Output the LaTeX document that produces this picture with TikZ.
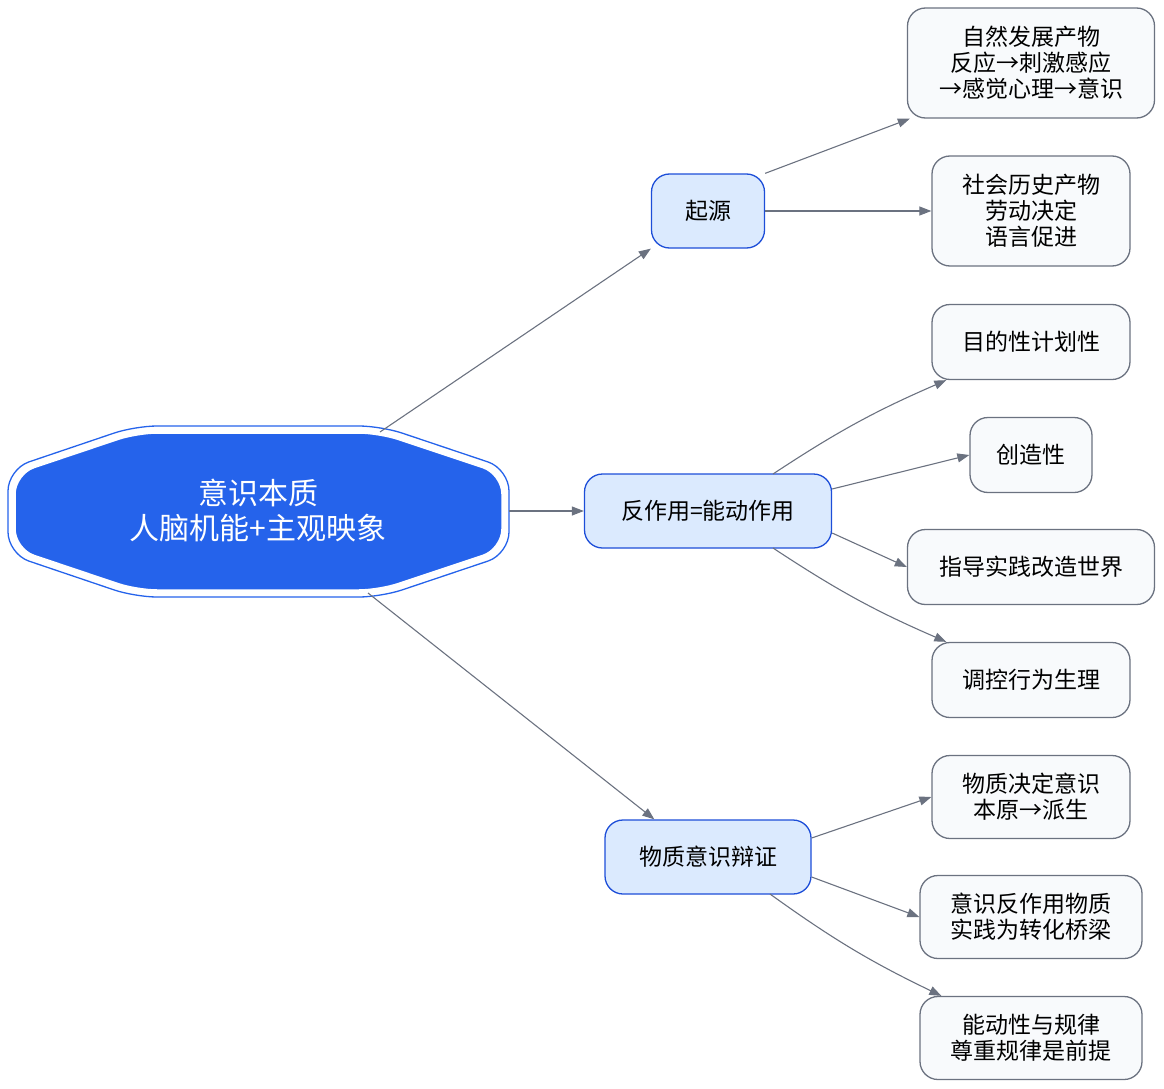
\documentclass[tikz,border=0pt]{standalone}
\usepackage{fontspec}
\newfontfamily\cjk{Noto Sans CJK SC}
\usetikzlibrary{arrows.meta}
\definecolor{rootblue}{HTML}{2563EB}
\definecolor{midfill}{HTML}{DBEAFE}
\definecolor{midline}{HTML}{1D4ED8}
\definecolor{leaffill}{HTML}{F8FAFC}
\definecolor{edgegray}{HTML}{6B7280}
\tikzset{
  mid/.style={draw=midline, fill=midfill, line width=1.3pt, rounded corners=18pt,
    align=center, font=\cjk\fontsize{23}{26}\selectfont, minimum height=74},
  leaf/.style={draw=edgegray, fill=leaffill, line width=1.3pt, rounded corners=18pt,
    align=center, font=\cjk\fontsize{23}{26}\selectfont},
  link/.style={draw=edgegray, line width=1.1pt, -{Triangle[length=12pt,width=9pt]}}
}
\begin{document}
\begin{tikzpicture}[x=1pt,y=-1pt]
  \useasboundingbox (0,0) rectangle (1164,1089);
  % root octagon
  \draw[rootblue, line width=1.3pt, rounded corners=22pt] (135,426) -- (381,426) -- (509,469) -- (509,554)
    -- (381,597) -- (135,597) -- (8,554) -- (8,469) -- cycle;
  \filldraw[fill=rootblue, draw=white, line width=1.5pt, rounded corners=20pt] (137,433) -- (379,433) -- (502,474) -- (502,549)
    -- (379,590) -- (137,590) -- (15,549) -- (15,474) -- cycle;
  \node[align=center, text=white, font=\cjk\fontsize{30}{35}\selectfont] (root) at (258,511)
    {意识本质\\人脑机能+主观映象};
  \coordinate (rootE) at (509,511);
  \coordinate (rootNE) at (380,432);
  \coordinate (rootSE) at (368,593);

  % middle level
  \node[mid, minimum width=113] (origin) at (708,211) {起源};
  \node[mid, minimum width=247] (react) at (708,511) {反作用=能动作用};
  \node[mid, minimum width=206] (dialec) at (708,857) {物质意识辩证};

  % leaves
  \node[leaf, minimum width=247, minimum height=110] (nat) at (1031,63) {自然发展产物\\反应→刺激感应\\→感觉心理→意识};
  \node[leaf, minimum width=198, minimum height=110] (soc) at (1031,211) {社会历史产物\\劳动决定\\语言促进};
  \node[leaf, minimum width=198, minimum height=75] (aim) at (1031,342) {目的性计划性};
  \node[leaf, minimum width=122, minimum height=75] (crea) at (1031,455) {创造性};
  \node[leaf, minimum width=247, minimum height=75] (guide) at (1031,567) {指导实践改造世界};
  \node[leaf, minimum width=198, minimum height=75] (ctrl) at (1031,680) {调控行为生理};
  \node[leaf, minimum width=198, minimum height=83] (deter) at (1031,797) {物质决定意识\\本原→派生};
  \node[leaf, minimum width=222, minimum height=83] (back) at (1031,917) {意识反作用物质\\实践为转化桥梁};
  \node[leaf, minimum width=222, minimum height=83] (law) at (1031,1038) {能动性与规律\\尊重规律是前提};

  % connectors
  \draw[link] (rootNE) -- (origin.south west);
  \draw[link] (rootE) -- (react.west);
  \draw[link] (rootSE) -- ([xshift=50pt]dialec.north west);
  \draw[link] (origin.north east) -- ([xshift=3pt]nat.south west);
  \draw[link] (origin.east) -- (soc.west);
  \draw[link] (773,474) to[bend left=5] ([xshift=15pt]aim.south west);
  \draw[link] (react.east |- 489,489) -- (crea.west);
  \draw[link] (react.east |- 533,533) -- (guide.west);
  \draw[link] (773,548) to[bend right=5] ([xshift=15pt]ctrl.north west);
  \draw[link] (dialec.east |- 838,838) -- (deter.west);
  \draw[link] (dialec.east |- 877,877) -- (back.west);
  \draw[link] (770,894) to[bend right=5] ([xshift=22pt]law.north west);
\end{tikzpicture}
\end{document}
